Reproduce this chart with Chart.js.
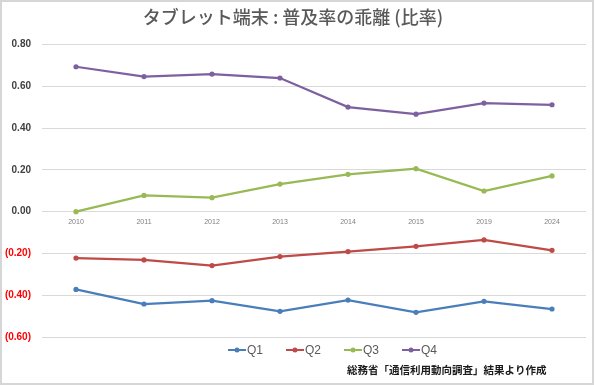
<!DOCTYPE html>
<html><head><meta charset="utf-8">
<script src="https://cdn.jsdelivr.net/npm/chart.js@4/dist/chart.umd.min.js"></script>
<style>html,body{margin:0;padding:0;background:#fff}#wrap{width:595px;height:385px}</style>
</head><body><div id="wrap"><canvas id="c" width="595" height="385"></canvas></div>
<script>
const categories = ['2010','2011','2012','2013','2014','2015','2019','2024'];
const q1 = [-0.372,-0.442,-0.426,-0.477,-0.423,-0.482,-0.429,-0.466];
const q2 = [-0.222,-0.231,-0.258,-0.215,-0.191,-0.166,-0.135,-0.185];
const q3 = [0.000,0.078,0.067,0.132,0.179,0.206,0.099,0.171];
const q4 = [0.694,0.647,0.659,0.640,0.501,0.467,0.520,0.512];
const seriesNames = ['Q1','Q2','Q3','Q4'];
const colors = ['#4A7EBB','#BE4B48','#98B954','#7D60A0'];
const titleText = 'タブレット端末 : 普及率の乖離 (比率)';
const sourceText = '総務省「通信利用動向調査」結果より作成';

const vals = [q1,q2,q3,q4];
const datasets = vals.map((d,i)=>({
  label: seriesNames[i], data: d, borderColor: colors[i], backgroundColor: colors[i],
  borderWidth: 2.25, pointRadius: 2.6, pointHoverRadius: 2.6, pointBorderWidth: 0,
  pointStyle: 'circle', tension: 0
}));

const framePlugin = {
  id: 'frame',
  beforeDraw(chart){
    const c = chart.ctx;
    c.save(); c.fillStyle = '#fff'; c.fillRect(0,0,chart.width,chart.height);
    c.strokeStyle = '#d6d6d6'; c.lineWidth = 2;
    c.strokeRect(1,1,chart.width-3,chart.height-2);
    c.restore();
  },
  afterDraw(chart){
    const c = chart.ctx;
    c.save();
    // legend
    c.font = '12px "Liberation Sans"';
    c.textBaseline = 'middle'; c.textAlign = 'left';
    let x = 228; const y = 350;
    chart.data.datasets.forEach(ds=>{
      c.strokeStyle = ds.borderColor; c.lineWidth = 2;
      c.beginPath(); c.moveTo(x, y); c.lineTo(x+18, y); c.stroke();
      c.fillStyle = ds.borderColor; c.beginPath(); c.arc(x+9, y, 2.5, 0, Math.PI*2); c.fill();
      c.fillStyle = '#595959'; c.fillText(ds.label, x+19, y+0.5);
      x += 58;
    });
    // source
    c.font = 'bold 10.5px "Noto Sans CJK JP"';
    c.fillStyle = '#1a1a1a';
    c.fillText(sourceText, 347, 370);
    c.restore();
  }
};

new Chart(document.getElementById('c'), {
  type: 'line',
  data: { labels: categories, datasets },
  plugins: [framePlugin],
  options: {
    responsive: false, animation: false,
    layout: { padding: { left: 0, right: 9, top: 0, bottom: 48 } },
    plugins: {
      title: { display: true, text: titleText, color: '#595959',
        font: { family: '"Noto Sans CJK JP"', size: 18, weight: '500' },
        padding: { top: 6, bottom: 17 } },
      legend: { display: false },
      tooltip: { enabled: false }
    },
    scales: {
      x: { position: { y: 0 }, offset: true,
        afterFit(s){ s.height = 0; },
        grid: { display: false, drawTicks: false }, border: { display: false },
        ticks: { color: '#7f7f7f', font: { family: '"Liberation Sans"', size: 7 }, padding: 6, maxRotation: 0 } },
      y: { min: -0.6, max: 0.8,
        afterFit(s){ s.width = 42; },
        grid: { color: '#d9d9d9', lineWidth: 1, drawTicks: false }, border: { display: false },
        ticks: { stepSize: 0.2, padding: 11,
          color: ctx => ctx.tick.value < -1e-9 ? '#ff0000' : '#404040',
          font: { family: '"Liberation Sans"', size: 10, weight: 'bold' },
          callback: v => { const r = Math.round(v*100)/100; return r < 0 ? '(' + Math.abs(r).toFixed(2) + ')' : r.toFixed(2); } } }
    }
  }
});
</script></body></html>
